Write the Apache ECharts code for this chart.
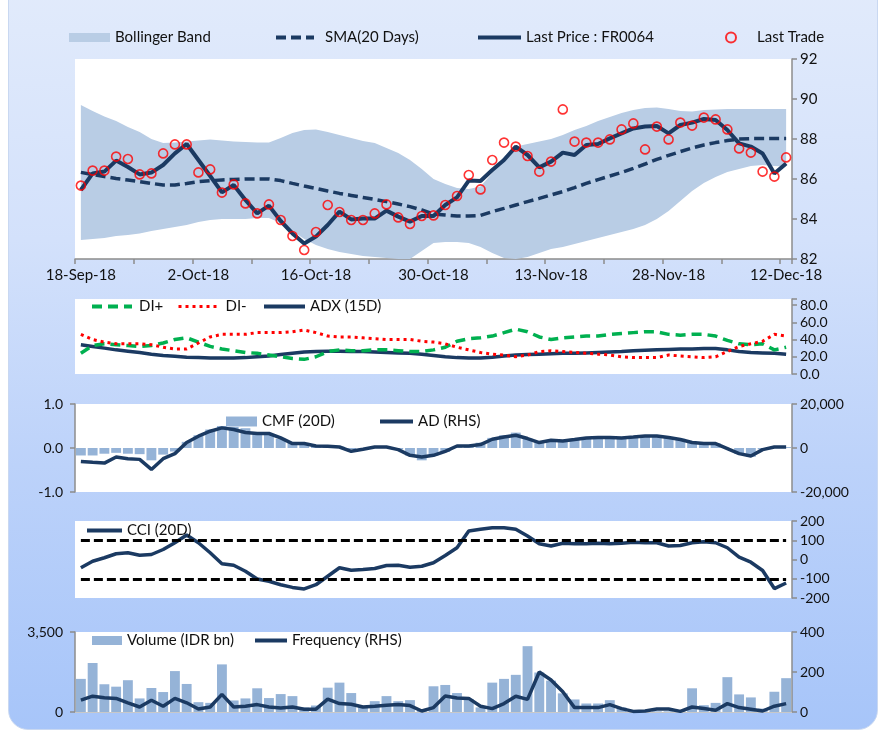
<!DOCTYPE html>
<html>
<head>
<meta charset="utf-8">
<script src="https://cdn.jsdelivr.net/npm/echarts@6/dist/echarts.min.js"></script>
<style>
  html, body { margin: 0; padding: 0; background: #ffffff; }
  .frame { position: relative; width: 885px; height: 734px; overflow: hidden; }
  .card {
    position: absolute; left: 8px; top: -24px; width: 868px; height: 752px;
    border-radius: 20px; border: 1px solid #c9d8f1;
    background: linear-gradient(to bottom, #e2ebfb 0%, #d3e1fb 35%, #bcd2fa 65%, #a7c5f9 100%);
  }
  #chart { position: absolute; left: 0; top: 0; width: 885px; height: 734px; }
</style>
</head>
<body>
<div class="frame">
  <div class="card"></div>
  <div id="chart"></div>
</div>
<script>
// trading days, 18-Sep-18 .. 12-Dec-18
const dates = ['18-Sep-18','19-Sep-18','20-Sep-18','21-Sep-18','24-Sep-18','25-Sep-18','26-Sep-18','27-Sep-18','28-Sep-18','1-Oct-18',
  '2-Oct-18','3-Oct-18','4-Oct-18','5-Oct-18','8-Oct-18','9-Oct-18','10-Oct-18','11-Oct-18','12-Oct-18','15-Oct-18',
  '16-Oct-18','17-Oct-18','18-Oct-18','19-Oct-18','22-Oct-18','23-Oct-18','24-Oct-18','25-Oct-18','26-Oct-18','29-Oct-18',
  '30-Oct-18','31-Oct-18','1-Nov-18','2-Nov-18','5-Nov-18','6-Nov-18','7-Nov-18','8-Nov-18','9-Nov-18','12-Nov-18',
  '13-Nov-18','14-Nov-18','15-Nov-18','16-Nov-18','19-Nov-18','21-Nov-18','22-Nov-18','23-Nov-18','26-Nov-18','27-Nov-18',
  '28-Nov-18','29-Nov-18','30-Nov-18','3-Dec-18','4-Dec-18','5-Dec-18','6-Dec-18','7-Dec-18','10-Dec-18','11-Dec-18',
  '12-Dec-18'];

const lastPrice = [85.45, 86.28, 86.37, 86.92, 86.6, 86.23, 86.32, 86.7, 87.28, 87.75,
  86.95, 86.15, 85.33, 85.7, 84.95, 84.28, 84.67, 83.9, 83.28, 82.78,
  83.12, 83.7, 84.37, 83.98, 84.02, 84.02, 84.42, 84.12, 83.87, 84.15,
  84.15, 84.7, 85.08, 85.92, 85.9, 86.45, 86.95, 87.62, 87.2, 86.58,
  86.87, 87.32, 87.2, 87.7, 87.75, 88.03, 88.28, 88.53, 88.62, 88.65,
  88.28, 88.7, 88.82, 89.0, 88.95, 88.45, 87.78, 87.62, 87.28, 86.28,
  86.78];

const lastTrade = [85.67, 86.42, 86.42, 87.12, 87.0, 86.23, 86.28, 87.28, 87.73, 87.73,
  86.33, 86.48, 85.32, 85.73, 84.78, 84.28, 84.73, 83.95, 83.15, 82.45,
  83.35, 84.7, 84.35, 83.95, 83.95, 84.28, 84.73, 84.08, 83.75, 84.15,
  84.18, 84.7, 85.15, 86.2, 85.48, 86.95, 87.82, 87.62, 87.15, 86.37,
  86.87, 89.48, 87.87, 87.82, 87.82, 87.98, 88.48, 88.78, 87.48, 88.62,
  87.98, 88.82, 88.67, 89.07, 88.98, 88.48, 87.53, 87.32, 86.37, 86.12,
  87.08];

const sma20 = [86.33, 86.22, 86.12, 86.03, 85.95, 85.87, 85.78, 85.7, 85.7, 85.78,
  85.87, 85.92, 85.95, 85.98, 86.0, 86.0, 86.0, 85.92, 85.78, 85.65,
  85.53, 85.4, 85.28, 85.18, 85.08, 84.98, 84.87, 84.75, 84.62, 84.45,
  84.25, 84.2, 84.15, 84.15, 84.18, 84.37, 84.53, 84.7, 84.87, 85.03,
  85.2, 85.37, 85.57, 85.78, 85.97, 86.15, 86.33, 86.53, 86.75, 86.98,
  87.18, 87.37, 87.55, 87.7, 87.82, 87.92, 88.0, 88.02, 88.02, 88.02,
  88.02];

const bbUpper = [89.7, 89.4, 89.12, 88.9, 88.6, 88.35, 88.0, 87.8, 87.82, 87.87,
  87.92, 87.98, 87.92, 87.88, 87.85, 87.82, 87.82, 88.05, 88.3, 88.45,
  88.48, 88.35, 88.2, 88.05, 87.9, 87.8, 87.55, 87.3, 86.95, 86.5,
  86.0, 85.75, 85.55, 85.5, 85.62, 86.3, 87.12, 87.62, 87.75, 87.87,
  88.0, 88.2, 88.45, 88.65, 88.9, 89.1, 89.3, 89.45, 89.55, 89.57,
  89.5, 89.4, 89.38, 89.45, 89.48, 89.5, 89.5, 89.5, 89.5, 89.5,
  89.5];

const bbLower = [82.95, 83.0, 83.05, 83.15, 83.2, 83.28, 83.4, 83.5, 83.6, 83.7,
  83.85, 83.95, 84.0, 84.0, 84.0, 84.05, 84.05, 83.8, 83.4, 83.0,
  82.7, 82.5, 82.35, 82.25, 82.15, 82.1, 82.05, 82.0, 82.0, 82.4,
  82.8, 82.85, 82.85, 82.8, 82.6, 82.3, 82.05, 82.0, 82.1, 82.3,
  82.5, 82.6, 82.75, 82.9, 83.05, 83.2, 83.35, 83.5, 83.7, 84.0,
  84.4, 84.9, 85.4, 85.8, 86.1, 86.35, 86.5, 86.65, 86.7, 86.65,
  86.62];

const diPlus = [24, 33, 35, 34, 33, 32, 33, 36, 40, 42,
  37, 32, 29, 27, 25, 24, 22, 20, 18, 17,
  20, 26, 28, 27, 27, 28, 28, 27, 26, 26,
  28, 31, 38, 41, 42, 44, 48, 52, 49, 43,
  40, 42, 43, 44, 44, 46, 47, 48, 49, 49,
  46, 45, 46, 46, 44, 39, 35, 34, 35, 28,
  31];

const diMinus = [46, 40, 37, 35, 35, 35, 34, 31, 29, 29,
  36, 43, 46, 46, 46, 48, 48, 48, 49, 51,
  48, 44, 43, 43, 42, 41, 40, 40, 40, 38,
  37, 35, 31, 28, 25, 23, 22, 20, 22, 26,
  27, 26, 25, 24, 23, 22, 20, 19, 19, 19,
  22, 21, 20, 19, 20, 26, 32, 35, 38, 46,
  44];

const adx15 = [34, 32, 30, 28, 26.5, 25, 23, 21.5, 20.5, 19.5,
  19, 18.5, 18.5, 18.5, 19, 20, 21, 22.5, 24, 25.5,
  26, 26.5, 26.5, 26, 26, 25.5, 25, 24.5, 24, 23,
  21.5, 20, 19, 18.5, 18.5, 19.5, 21, 22, 22.5, 23,
  23.5, 24, 24, 24.5, 25, 25.5, 26, 27, 27.5, 28,
  28.5, 29, 29, 29.5, 29.5, 28, 26, 25, 24.5, 24,
  23];

const cmf20 = [-0.17, -0.17, -0.13, -0.11, -0.13, -0.14, -0.28, -0.15, -0.08, 0.14,
  0.29, 0.42, 0.5, 0.48, 0.45, 0.31, 0.31, 0.21, 0.12, 0.1,
  0.06, 0.05, 0.03, -0.03, -0.01, 0.02, 0.01, -0.03, -0.17, -0.28,
  -0.17, -0.09, 0.02, 0.05, 0.12, 0.23, 0.29, 0.35, 0.21, 0.14,
  0.18, 0.18, 0.21, 0.24, 0.24, 0.24, 0.24, 0.26, 0.26, 0.26,
  0.24, 0.21, 0.15, 0.12, 0.11, 0.0, -0.13, -0.2, -0.03, 0.02,
  0.02];

const adLine = [-6090, -6500, -6860, -4120, -4850, -5170, -9750, -4850, -2560, 2470,
  5350, 7640, 9150, 8420, 7050, 6590, 6590, 4580, 2010, 2010,
  920, 780, 460, -1510, -600, 460, 460, -730, -3340, -4120,
  -3340, -1500, 920, 920, 1560, 3980, 5030, 5810, 4300, 2470,
  3520, 3200, 3840, 4580, 4760, 4760, 4580, 5030, 5490, 5490,
  4760, 3840, 2470, 2010, 2010, -270, -2560, -3660, -730, 460,
  460];

const cci20 = [-43, -9, 9, 30, 35, 22, 26, 52, 87, 127,
  87, 35, -22, -30, -61, -101, -113, -131, -145, -153,
  -131, -87, -43, -56, -52, -47, -31, -30, -40, -35,
  -17, 21, 61, 148, 157, 165, 165, 157, 122, 82,
  70, 84, 82, 82, 84, 82, 84, 90, 87, 87,
  70, 73, 87, 92, 87, 61, 12, -14, -57, -151,
  -122];
const cciBands = [100, -100];

const volume = [1449, 2144, 1214, 1108, 1391, 594, 1050, 873, 1790, 1227,
  430, 400, 2083, 505, 594, 1037, 610, 784, 695, 195,
  284, 1064, 1285, 829, 224, 474, 695, 474, 520, 74,
  1125, 1183, 829, 563, 200, 1285, 1449, 1626, 2880, 1728,
  1373, 815, 549, 372, 372, 518, 195, 40, 30, 30,
  30, 40, 1037, 297, 399, 1524, 770, 638, 150, 886,
  1480];

const frequency = [59, 79, 71, 68, 46, 25, 59, 29, 68, 46,
  15, 25, 88, 25, 29, 37, 25, 20, 25, 14,
  14, 64, 42, 39, 25, 29, 34, 37, 32, 5,
  22, 80, 70, 68, 29, 17, 42, 79, 63, 200,
  160, 101, 22, 22, 22, 37, 17, 3, 5, 15,
  15, 3, 25, 17, 9, 42, 22, 14, 5, 29,
  42];

const NAVY = '#1b3a62';
const GREY = '#8c8c8c';
const FONT = 'Lato';
const bandWidth = bbUpper.map((u, i) => +(u - bbLower[i]).toFixed(2));

const chart = echarts.init(document.getElementById('chart'));

const gridBase = { left: 75, right: 93, show: true, backgroundColor: '#ffffff', borderWidth: 0 };
const grids = [
  Object.assign({ top: 59, height: 200 }, gridBase),
  Object.assign({ top: 299, height: 75 }, gridBase),
  Object.assign({ top: 404, height: 88 }, gridBase),
  Object.assign({ top: 521, height: 77 }, gridBase),
  Object.assign({ top: 632, height: 80 }, gridBase)
];

const hiddenX = (idx) => ({
  type: 'category', gridIndex: idx, data: dates,
  axisLine: { show: false }, axisTick: { show: false }, axisLabel: { show: false }
});

const rightAxis = (idx, extra) => Object.assign({
  type: 'value', gridIndex: idx, position: 'right',
  axisLine: { show: true, lineStyle: { color: GREY, width: 1.5 } },
  axisTick: { show: true, length: 5, lineStyle: { color: GREY, width: 1.5 } },
  axisLabel: { color: '#111', fontSize: 14, fontFamily: FONT, margin: 8 },
  splitLine: { show: false }
}, extra);

const leftAxis = (idx, extra) => Object.assign({
  type: 'value', gridIndex: idx, position: 'left',
  axisLine: { show: true, lineStyle: { color: GREY, width: 1.5 } },
  axisTick: { show: true, length: 5, lineStyle: { color: GREY, width: 1.5 } },
  axisLabel: { color: '#111', fontSize: 14, fontFamily: FONT, margin: 12 },
  splitLine: { show: false }
}, extra);

const legendText = { color: '#111', fontSize: 15, fontFamily: FONT };
const padText = (p) => Object.assign({ padding: [0, 0, 0, p] }, legendText);
const leg = (name, left, top, extra) => Object.assign({
  data: [name], left: left, top: top, padding: 0, itemGap: 0,
  textStyle: legendText, selectedMode: false
}, extra);
// legend entries drawn as a plain line sample (no marker)
const lineLeg = (name, left, top, w, extra) => leg(name, left, top, Object.assign({
  itemWidth: w, itemHeight: 14, itemStyle: { opacity: 0 }, lineStyle: { width: 4 }
}, extra));

const option = {
  animation: false,
  grid: grids,
  legend: [
    leg('Bollinger Band', 69, 30, { icon: 'rect', itemWidth: 41, itemHeight: 9 }),
    lineLeg('SMA(20 Days)', 274, 30, 38, { textStyle: padText(6) }),
    lineLeg('Last Price : FR0064', 476, 30, 43),
    leg('Last Trade', 725, 30, { itemWidth: 10, itemHeight: 10, textStyle: padText(16) }),
    lineLeg('DI+', 90, 299, 40, { textStyle: padText(2) }),
    lineLeg('DI-', 177, 299, 40, { textStyle: padText(2), lineStyle: { width: 3 } }),
    lineLeg('ADX (15D)', 262, 299, 41),
    leg('CMF (20D)', 226, 414, { icon: 'rect', itemWidth: 31, itemHeight: 10 }),
    lineLeg('AD (RHS)', 378, 414, 33),
    lineLeg('CCI (20D)', 85, 523, 35),
    leg('Volume (IDR bn)', 92, 633, { icon: 'rect', itemWidth: 30, itemHeight: 9 }),
    lineLeg('Frequency (RHS)', 253, 633, 32)
  ],
  xAxis: [
    {
      type: 'category', gridIndex: 0, data: dates,
      axisLine: { show: true, lineStyle: { color: GREY, width: 1.5 } },
      axisTick: { show: true, interval: 4, length: 5, lineStyle: { color: GREY, width: 1.5 } },
      axisLabel: { interval: 9, color: '#111', fontSize: 15, fontFamily: FONT, margin: 9 }
    },
    hiddenX(1),
    hiddenX(2),
    hiddenX(3),
    Object.assign(hiddenX(4), { axisLine: { show: true, onZero: false, lineStyle: { color: '#c8c8c8', width: 1 } } })
  ],
  yAxis: [
    rightAxis(0, { min: 82, max: 92, interval: 2, axisLabel: { color: '#111', fontSize: 15, fontFamily: FONT, margin: 8 } }),
    rightAxis(1, { min: 0, max: 87, interval: 20,
      axisLabel: { color: '#111', fontSize: 14, fontFamily: FONT, margin: 8,
        formatter: v => (v % 20 === 0 ? v.toFixed(1) : '') } }),
    leftAxis(2, { min: -1, max: 1, interval: 1,
      axisLabel: { color: '#111', fontSize: 14, fontFamily: FONT, margin: 12, formatter: v => v.toFixed(1) } }),
    rightAxis(2, { min: -20000, max: 20000, interval: 20000,
      axisLabel: { color: '#111', fontSize: 14, fontFamily: FONT, margin: 8, formatter: v => v.toLocaleString('en-US') } }),
    rightAxis(3, { min: -200, max: 200, interval: 100 }),
    leftAxis(4, { min: 0, max: 3500, interval: 3500,
      axisLabel: { color: '#111', fontSize: 14, fontFamily: FONT, margin: 12, formatter: v => v.toLocaleString('en-US') } }),
    rightAxis(4, { min: 0, max: 400, interval: 200 })
  ],
  series: [
    { name: 'bbBase', type: 'line', xAxisIndex: 0, yAxisIndex: 0, stack: 'bb', data: bbLower,
      symbol: 'none', lineStyle: { opacity: 0 }, silent: true, z: 1 },
    { name: 'Bollinger Band', type: 'line', xAxisIndex: 0, yAxisIndex: 0, stack: 'bb', data: bandWidth,
      symbol: 'none', lineStyle: { opacity: 0 }, itemStyle: { color: '#b9cde5' },
      areaStyle: { color: '#b9cde5', opacity: 1 }, silent: true, z: 1 },
    { name: 'SMA(20 Days)', type: 'line', xAxisIndex: 0, yAxisIndex: 0, data: sma20, symbol: 'none',
      itemStyle: { color: NAVY }, lineStyle: { color: NAVY, width: 3.5, type: [10, 5] }, z: 3 },
    { name: 'Last Price : FR0064', type: 'line', xAxisIndex: 0, yAxisIndex: 0, data: lastPrice, symbol: 'none',
      itemStyle: { color: NAVY }, lineStyle: { color: NAVY, width: 4 }, z: 4 },
    { name: 'Last Trade', type: 'scatter', xAxisIndex: 0, yAxisIndex: 0, data: lastTrade,
      symbol: 'circle', symbolSize: 9,
      itemStyle: { color: 'rgba(255,255,255,0)', borderColor: '#ff0000', borderWidth: 1.6 }, z: 5 },

    { name: 'DI+', type: 'line', xAxisIndex: 1, yAxisIndex: 1, data: diPlus, symbol: 'none',
      itemStyle: { color: '#00b050' }, lineStyle: { color: '#00b050', width: 3.5, type: [10, 6] }, z: 3 },
    { name: 'DI-', type: 'line', xAxisIndex: 1, yAxisIndex: 1, data: diMinus, symbol: 'none',
      itemStyle: { color: '#ff0000' }, lineStyle: { color: '#ff0000', width: 3, type: [3, 4] }, z: 3 },
    { name: 'ADX (15D)', type: 'line', xAxisIndex: 1, yAxisIndex: 1, data: adx15, symbol: 'none',
      itemStyle: { color: NAVY }, lineStyle: { color: NAVY, width: 3.5 }, z: 2 },

    { name: 'CMF (20D)', type: 'bar', xAxisIndex: 2, yAxisIndex: 2, data: cmf20,
      barCategoryGap: '16%', itemStyle: { color: '#95b3d7' }, z: 1 },
    { name: 'AD (RHS)', type: 'line', xAxisIndex: 2, yAxisIndex: 3, data: adLine, symbol: 'none',
      itemStyle: { color: NAVY }, lineStyle: { color: NAVY, width: 3.5 }, z: 3 },

    { name: 'CCI (20D)', type: 'line', xAxisIndex: 3, yAxisIndex: 4, data: cci20, symbol: 'none',
      itemStyle: { color: NAVY }, lineStyle: { color: NAVY, width: 3.5 }, z: 3,
      markLine: {
        silent: true, symbol: 'none', label: { show: false },
        lineStyle: { color: '#000', width: 3, type: [9, 4] },
        data: cciBands.map(v => [{ coord: [dates[0], v] }, { coord: [dates[dates.length - 1], v] }])
      } },

    { name: 'Volume (IDR bn)', type: 'bar', xAxisIndex: 4, yAxisIndex: 5, data: volume,
      barCategoryGap: '16%', itemStyle: { color: '#95b3d7' }, z: 1 },
    { name: 'Frequency (RHS)', type: 'line', xAxisIndex: 4, yAxisIndex: 6, data: frequency, symbol: 'none',
      itemStyle: { color: NAVY }, lineStyle: { color: NAVY, width: 3.5 }, z: 3 }
  ]
};

chart.setOption(option);
</script>
</body>
</html>
